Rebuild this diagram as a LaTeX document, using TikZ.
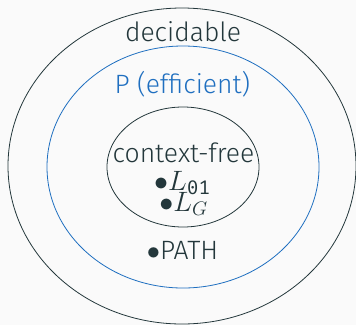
\RequirePackage{fix-cm}
\documentclass[tikz,border=0pt]{standalone}
\usepackage{amsmath}
\usepackage{fontspec}
\setmainfont{Fira Sans Light}
\newfontfamily\monofont{Fira Mono}
\definecolor{darkgray}{HTML}{23373B}
\definecolor{pblue}{HTML}{1F6FC0}
\definecolor{bg}{HTML}{FAFAFA}
\newcommand{\zo}{\text{\monofont 01}}

\begin{document}
\begin{tikzpicture}[x=1pt, y=-1pt, line width=0.8pt,
	every node/.style={text=darkgray, anchor=base, inner sep=0pt,
		font=\fontsize{26.5}{31}\selectfont},
	member/.style={font=\fontsize{28}{32}\selectfont}]
	\fill[bg] (0, 0) rectangle (356, 325); % Фон
	\useasboundingbox (0, 0) rectangle (356, 325);
	
	\draw[darkgray] (182, 166) ellipse (174 and 158); % decidable
	\draw[pblue] (183, 167) ellipse (136 and 121); % P
	\draw[darkgray] (183, 167) ellipse (76 and 60); % context-free
	
	\node (dec) at (183, 41) {decidable};
	\node[text=pblue] (eff) at (182.5, 93) {P (efficient)};
	\node (cfl) at (183.5, 162) {context-free};
	
	\node[member] (lzo) at (182.5, 190) {$\bullet L_{\zo}$};
	\node[member] (lg) at (183.5, 211) {$\bullet L_G$};
	\node (path) at (182.5, 259) {$\bullet$PATH};
\end{tikzpicture}
\end{document}
